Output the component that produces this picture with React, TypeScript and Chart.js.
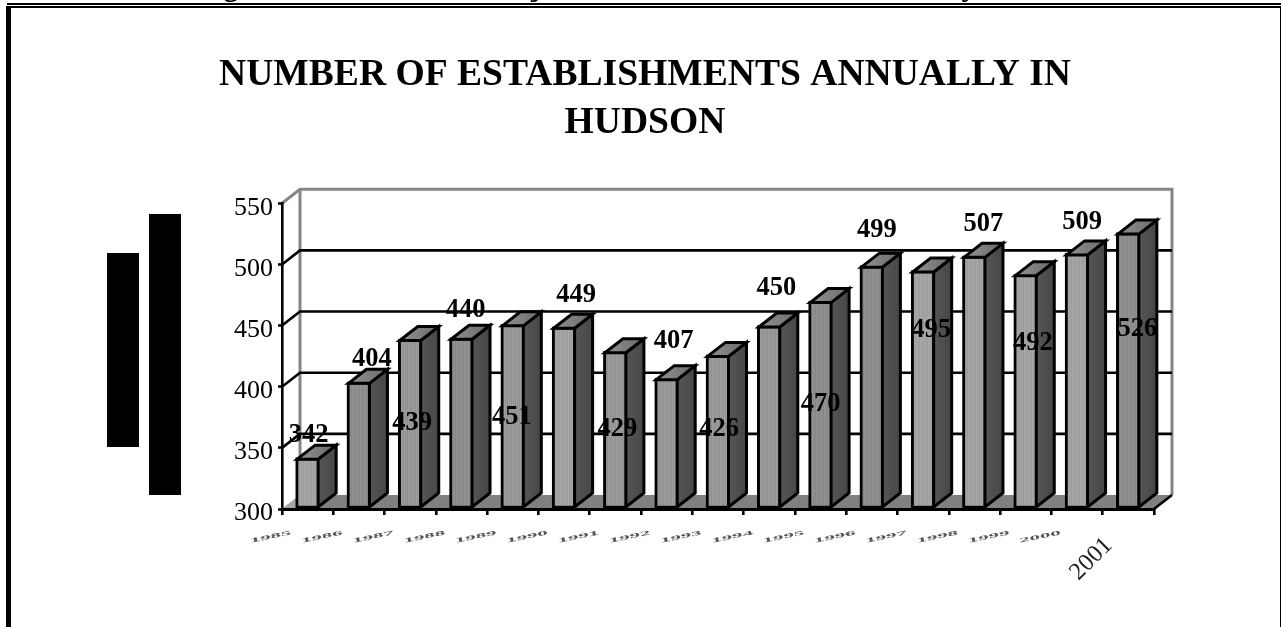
import React, { useEffect, useRef } from "react";
import { Chart, registerables } from "chart.js";

Chart.register(...registerables);

const years = ["1985","1986","1987","1988","1989","1990","1991","1992","1993","1994","1995","1996","1997","1998","1999","2000","2001"];
const establishments = [342,404,439,440,451,449,429,407,426,450,470,499,495,507,492,509,526];
const titleLines = ["NUMBER OF ESTABLISHMENTS ANNUALLY IN", "HUDSON"];
const clippedHeadingGlyphs = ["g", "j", "y"];

// Tone of each bar's front face: 0 light, 1 medium, 2 dark.
const frontTones = [0,2,1,2,1,0,1,1,1,1,2,2,0,0,0,0,2];
// Where each value label sits relative to the top of its bar.
const labelShiftX = [1,13,2,4,-1,12,2,7,1,7,0,5,8,9,7,5,9];
const labelShiftY = [-22,-23,84,-28,93,-32,78,-37,74,-37,103,-35,60,-32,69,-31,97];

const SERIF = '"Liberation Serif", serif';
const DEPTH_X = 18;
const DEPTH_Y = 14;

function stripes(colors: string[]) {
  const c = document.createElement("canvas");
  c.width = colors.length;
  c.height = 1;
  const g = c.getContext("2d")!;
  colors.forEach((col, i) => {
    g.fillStyle = col;
    g.fillRect(i, 0, 1, 1);
  });
  return g.createPattern(c, "repeat")!;
}

function poly(ctx: CanvasRenderingContext2D, pts: number[][]) {
  ctx.beginPath();
  pts.forEach(([x, y], i) => (i ? ctx.lineTo(x, y) : ctx.moveTo(x, y)));
  ctx.closePath();
}

const sceneryPlugin = {
  id: "scenery",
  beforeDraw(chart: any) {
    const { ctx, scales } = chart;
    const x = scales.x;
    const y = scales.y;
    const L = x.left, R = x.right, B = y.bottom, T = y.top;
    ctx.save();
    ctx.fillStyle = "#fff";
    ctx.fillRect(0, 0, chart.width, chart.height);

    // Page frame and the clipped line of heading above it
    ctx.fillStyle = "#000";
    ctx.font = `bold 30px ${SERIF}`;
    ctx.textAlign = "center";
    ctx.textBaseline = "alphabetic";
    [231, 536, 969].forEach((gx, i) => ctx.fillText(clippedHeadingGlyphs[i], gx, -4));
    ctx.fillRect(7, 3, 1274, 2);
    ctx.fillRect(7, 6, 1274, 2);
    ctx.fillRect(6, 6, 5, 621);
    ctx.fillRect(1280, 7, 1, 620);

    // Blocked-out axis title
    ctx.fillRect(107, 253, 32, 194);
    ctx.fillRect(149, 214, 32, 281);

    // Floor and side wall of the 3D box
    ctx.fillStyle = "#808080";
    poly(ctx, [[L, B], [L + DEPTH_X, B - DEPTH_Y], [R + DEPTH_X, B - DEPTH_Y], [R, B]]);
    ctx.fill();
    ctx.fillStyle = "#a6a6a6";
    poly(ctx, [[L, B], [L + DEPTH_X, B - DEPTH_Y], [L + DEPTH_X, B]]);
    ctx.fill();

    // Back wall outline
    ctx.strokeStyle = "#868686";
    ctx.lineWidth = 3;
    ctx.beginPath();
    ctx.moveTo(L, T);
    ctx.lineTo(L + DEPTH_X, T - DEPTH_Y);
    ctx.lineTo(R + DEPTH_X, T - DEPTH_Y);
    ctx.lineTo(R + DEPTH_X, B - DEPTH_Y);
    ctx.moveTo(L + DEPTH_X, T - DEPTH_Y);
    ctx.lineTo(L + DEPTH_X, B - DEPTH_Y);
    ctx.stroke();

    // Gridlines wrap from the front axis onto the back wall
    ctx.strokeStyle = "#000";
    ctx.lineWidth = 2.6;
    y.ticks.forEach((t: any) => {
      if (t.value === y.min || t.value === y.max) return;
      const py = y.getPixelForValue(t.value);
      ctx.beginPath();
      ctx.moveTo(L, py);
      ctx.lineTo(L + DEPTH_X, py - DEPTH_Y);
      ctx.lineTo(R + DEPTH_X, py - DEPTH_Y);
      ctx.stroke();
    });
    ctx.beginPath();
    ctx.moveTo(R, B);
    ctx.lineTo(R + DEPTH_X, B - DEPTH_Y);
    ctx.stroke();

    // Value-axis numbers sit a little below their tick marks
    ctx.fillStyle = "#000";
    ctx.font = `26px ${SERIF}`;
    ctx.textAlign = "right";
    ctx.textBaseline = "middle";
    y.ticks.forEach((t: any) => {
      ctx.fillText(String(t.value), L - 9, y.getPixelForValue(t.value) + 4.5);
    });
    ctx.restore();
  },
  afterDatasetsDraw(chart: any) {
    const { ctx, scales } = chart;
    const bars = chart.getDatasetMeta(0).data;
    ctx.save();
    ctx.lineJoin = "miter";

    bars.forEach((bar: any) => {
      const half = bar.width / 2;
      const right = bar.x + half - 1.5;
      const left = bar.x - half + 1.5;
      const top = bar.y + 1.5;
      const base = bar.base - 1.5;

      const sideFill = ctx.createLinearGradient(right, 0, right + DEPTH_X, 0);
      sideFill.addColorStop(0, "#565656");
      sideFill.addColorStop(1, "#464646");
      ctx.fillStyle = sideFill;
      ctx.strokeStyle = "#000";
      ctx.lineWidth = 3;
      poly(ctx, [[right, top], [right + DEPTH_X, top - DEPTH_Y], [right + DEPTH_X, base - DEPTH_Y], [right, base]]);
      ctx.fill();
      ctx.stroke();

      const topFill = ctx.createLinearGradient(left, 0, right + DEPTH_X, 0);
      topFill.addColorStop(0, "#929292");
      topFill.addColorStop(1, "#6a6a6a");
      ctx.fillStyle = topFill;
      poly(ctx, [[left, top], [left + DEPTH_X, top - DEPTH_Y], [right + DEPTH_X, top - DEPTH_Y], [right, top]]);
      ctx.fill();
      ctx.stroke();
    });

    // Value labels
    ctx.fillStyle = "#000";
    ctx.font = `bold 26.5px ${SERIF}`;
    ctx.textAlign = "center";
    ctx.textBaseline = "middle";
    bars.forEach((bar: any, i: number) => {
      ctx.fillText(String(establishments[i]), bar.x + labelShiftX[i], bar.y + labelShiftY[i]);
    });

    // Year labels: squeezed flat and smeared for all but the last
    const x = scales.x;
    years.forEach((year, i) => {
      const cx = x.getPixelForTick(i) - 37;
      ctx.save();
      if (i === years.length - 1) {
        ctx.translate(cx, 559);
        ctx.rotate(-Math.PI / 4);
        ctx.font = `24.5px ${SERIF}`;
        ctx.fillStyle = "#222";
      } else {
        ctx.filter = "blur(0.6px)";
        ctx.translate(cx, 537);
        ctx.rotate(-0.2);
        ctx.scale(1, 0.3);
        ctx.font = `bold 21px ${SERIF}`;
        ctx.fillStyle = "#555";
      }
      ctx.fillText(year, 0, 0);
      ctx.restore();
    });
    ctx.restore();
  },
};

export default function App() {
  const ref = useRef<HTMLCanvasElement>(null);

  useEffect(() => {
    const tones = [
      stripes(["#a8a8a8", "#a0a0a0", "#a4a4a4", "#9c9c9c"]),
      stripes(["#9e9e9e", "#949494", "#9a9a9a", "#909090"]),
      stripes(["#949494", "#8a8a8a", "#909090", "#868686"]),
    ];
    const chart = new Chart(ref.current!, {
      type: "bar",
      data: {
        labels: years,
        datasets: [
          {
            data: establishments,
            base: 300,
            backgroundColor: (c: any) => tones[frontTones[c.dataIndex] ?? 0],
            borderColor: "#000",
            borderWidth: 3,
            borderSkipped: false,
            barThickness: 24,
          },
        ],
      },
      options: {
        animation: false,
        responsive: false,
        layout: { padding: { left: 9, right: 0, top: 0, bottom: 0 } },
        plugins: {
          legend: { display: false },
          tooltip: { enabled: false },
          title: {
            display: true,
            text: titleLines,
            color: "#000",
            font: { family: SERIF, size: 37.6, weight: "bold", lineHeight: 1.28 },
            padding: { top: 51, bottom: 56 },
          },
        },
        scales: {
          x: {
            type: "category",
            afterFit: (s: any) => { s.height = 118; },
            grid: { drawOnChartArea: false, color: "#000", lineWidth: 2.6, tickLength: 6, tickColor: "#000", tickWidth: 2.6 },
            border: { color: "#000", width: 3 },
            ticks: { display: false },
          },
          y: {
            min: 300,
            max: 550,
            afterFit: (s: any) => { s.width = 273; },
            grid: { drawOnChartArea: false, tickLength: 4, tickColor: "#000", tickWidth: 2.6 },
            border: { color: "#000", width: 2.6 },
            ticks: { stepSize: 50, display: false },
          },
          rightMargin: {
            axis: "y",
            position: "right",
            afterFit: (s: any) => { s.width = 127; },
            grid: { display: false },
            border: { display: false },
            ticks: { display: false },
          },
        },
      } as any,
      plugins: [sceneryPlugin],
    });
    return () => chart.destroy();
  }, []);

  return (
    <div style={{ position: "absolute", left: 0, top: 0, width: 1281, height: 627 }}>
      <canvas ref={ref} width={1281} height={627} style={{ display: "block" }} />
    </div>
  );
}
